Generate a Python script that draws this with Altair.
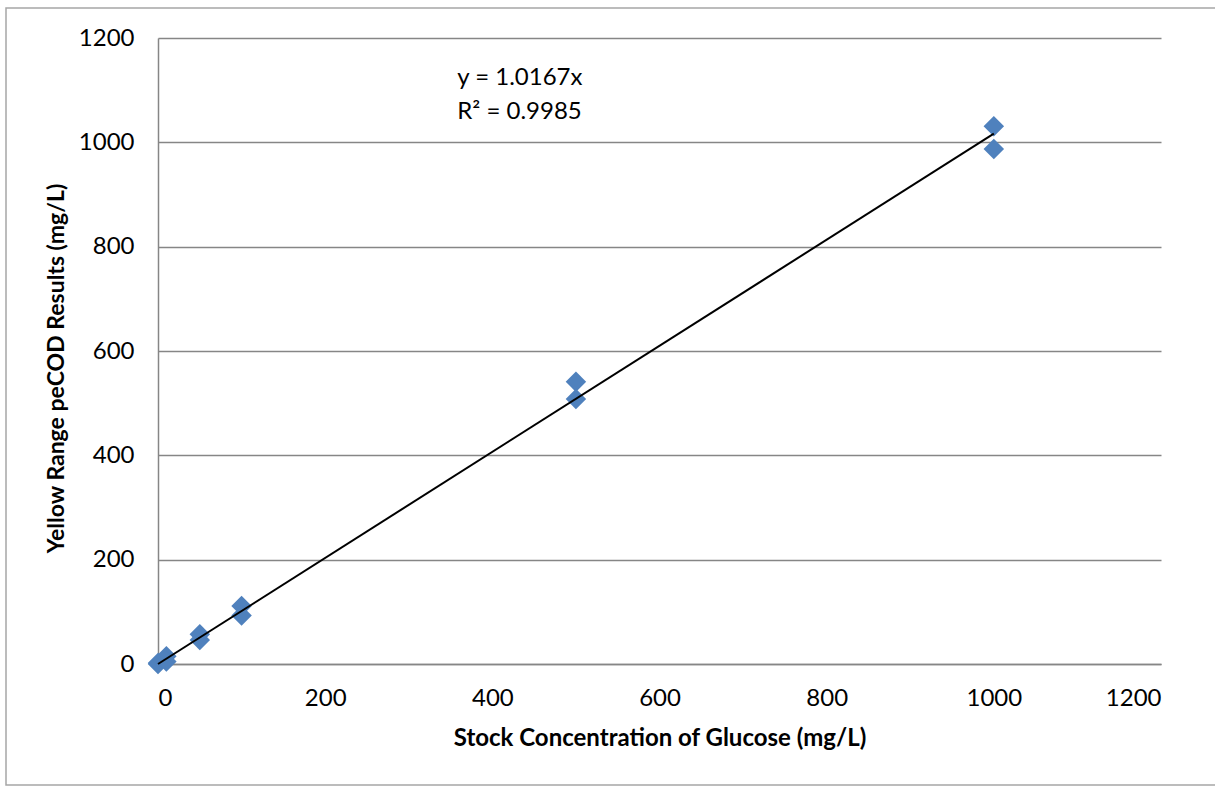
import altair as alt
import pandas as pd

stock = [0, 0, 10, 10, 50, 50, 100, 100, 500, 500, 1000, 1000]
pecod = [0, 2, 15, 5, 57, 46, 111, 93, 541, 508, 1031, 987]
slope = 1.0167
trend_x = [0, 1000]
eq_lines = ["y = 1.0167x", "R² = 0.9985"]
eq_x = [358, 358]
eq_y = [1124, 1059]

FONT = "Lato"
GRID = "#868686"

pts = pd.DataFrame({"x": stock, "y": pecod})
trend = pd.DataFrame({"x": trend_x, "y": [slope * v for v in trend_x]})
eq = pd.DataFrame({"x": eq_x, "y": eq_y, "t": eq_lines})

xscale = alt.Scale(domain=[0, 1200], nice=False)
yscale = alt.Scale(domain=[0, 1200], nice=False)

xaxis = alt.Axis(values=list(range(0, 1201, 200)), format="d",
                 title="Stock Concentration of Glucose (mg/L)",
                 grid=False, ticks=False, domain=True, domainColor=GRID, domainWidth=1.5,
                 labelFont=FONT, labelFontSize=24, labelColor="black", labelPadding=22,
                 titleFont=FONT, titleFontSize=24, titleFontWeight="bold", titleColor="black",
                 titlePadding=16)
yaxis = alt.Axis(values=list(range(0, 1201, 200)), format="d",
                 title="Yellow Range peCOD Results (mg/L)",
                 grid=True, gridColor=GRID, gridWidth=1.5, ticks=False, domain=True,
                 domainColor=GRID, domainWidth=1.5,
                 labelFont=FONT, labelFontSize=24, labelColor="black", labelPadding=24,
                 titleFont=FONT, titleFontSize=23, titleFontWeight="bold", titleColor="black",
                 titlePadding=10, titleY=330)

border = alt.Chart(pd.DataFrame({"a": [0]})).mark_rect(
    fill=None, stroke="#a6a6a6", strokeWidth=1.5
).encode(x=alt.value(-152), x2=alt.value(1100), y=alt.value(-30), y2=alt.value(747))

points = alt.Chart(pts).mark_point(
    shape="diamond", filled=True, color="#4F81BD", size=420, opacity=1
).encode(x=alt.X("x:Q", scale=xscale, axis=xaxis), y=alt.Y("y:Q", scale=yscale, axis=yaxis))

line = alt.Chart(trend).mark_line(color="black", strokeWidth=2).encode(
    x=alt.X("x:Q", scale=xscale), y=alt.Y("y:Q", scale=yscale))

text = alt.Chart(eq).mark_text(font=FONT, fontSize=24, color="black", align="left").encode(
    x=alt.X("x:Q", scale=xscale), y=alt.Y("y:Q", scale=yscale), text="t:N")

chart = alt.layer(border, points, line, text).properties(
    width=1003, height=626, autosize="none",
    padding={"left": 158, "top": 38, "right": 54, "bottom": 123},
    background="white"
).configure_view(stroke=None)

chart.save("out.html", embed_options={"renderer": "svg", "actions": False})
